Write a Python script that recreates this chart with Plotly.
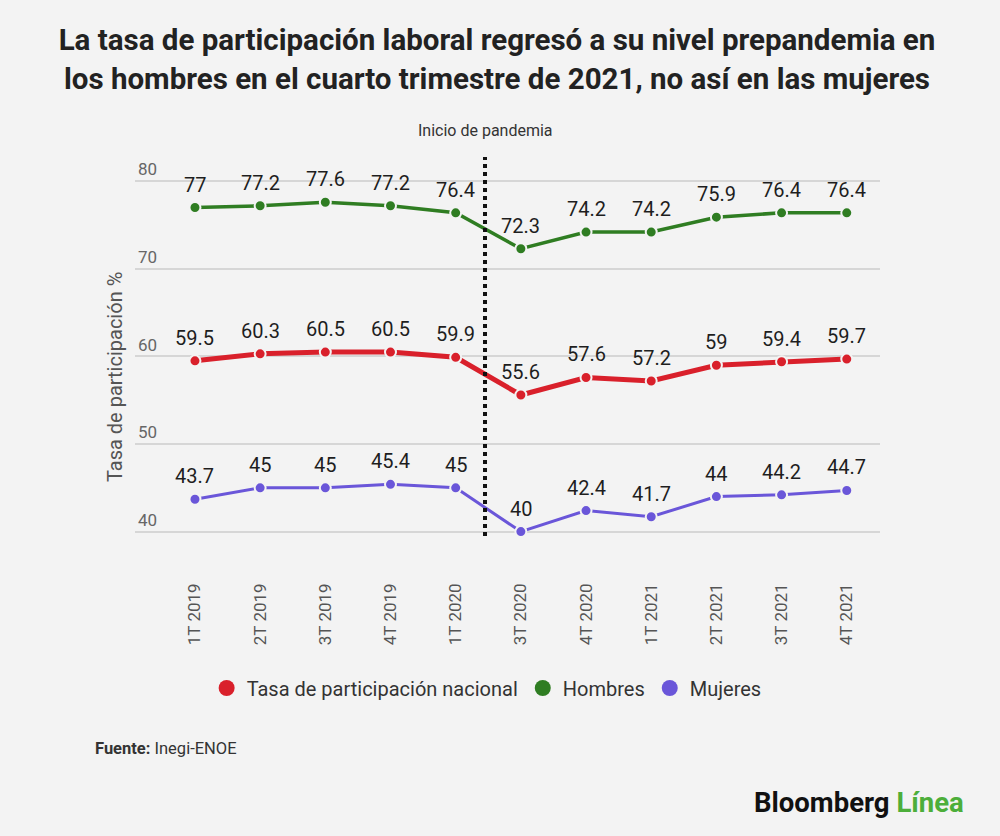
import plotly.graph_objects as go

categories = ["1T 2019", "2T 2019", "3T 2019", "4T 2019", "1T 2020", "3T 2020",
              "4T 2020", "1T 2021", "2T 2021", "3T 2021", "4T 2021"]
nacional = [59.5, 60.3, 60.5, 60.5, 59.9, 55.6, 57.6, 57.2, 59.0, 59.4, 59.7]
hombres = [77.0, 77.2, 77.6, 77.2, 76.4, 72.3, 74.2, 74.2, 75.9, 76.4, 76.4]
mujeres = [43.7, 45.0, 45.0, 45.4, 45.0, 40.0, 42.4, 41.7, 44.0, 44.2, 44.7]
y_ticks = [40, 50, 60, 70, 80]
pandemic_start = 4.45  # between "1T 2020" and "3T 2020"

series = [
    ("Tasa de participación nacional", nacional, "#d9202b", 5),
    ("Hombres", hombres, "#2f7d22", 3.5),
    ("Mujeres", mujeres, "#6a56d9", 3),
]

BG = "#f3f3f3"
FONT = "Roboto"
PH = 381.0      # plot height in px
PB = 536.0      # plot bottom in px


def py(px):
    return (PB - px) / PH


fig = go.Figure()

for name, vals, color, w in series:
    fig.add_trace(go.Scatter(
        x=categories, y=vals, mode="lines+markers", name=name,
        line=dict(color=color, width=w),
        marker=dict(size=11, color=color, line=dict(color=BG, width=2)),
        showlegend=False, cliponaxis=False, hoverinfo="skip"))

for name, vals, color, w in series:
    fig.add_trace(go.Scatter(
        x=[None], y=[None], mode="markers", name=name,
        marker=dict(size=17, color=color), showlegend=True))

annotations = []
for name, vals, color, w in series:
    for c, v in zip(categories, vals):
        annotations.append(dict(
            x=c, y=v, xref="x", yref="y", text=f"{v:g}", showarrow=False,
            yshift=23, font=dict(family=FONT, size=20, color="#1e1e1e")))

annotations += [
    dict(x=pandemic_start, y=py(130), xref="x", yref="paper", text="Inicio de pandemia",
         showarrow=False, font=dict(family=FONT, size=16, color="#333"),
         yanchor="middle"),
    dict(xref="paper", yref="paper", x=-0.0268, y=py(377), textangle=-90,
         text="Tasa de participación %", showarrow=False,
         xanchor="center", yanchor="middle",
         font=dict(family=FONT, size=20, color="#555")),
    dict(xref="paper", yref="paper", x=(93 - 135) / 745, y=py(748),
         xanchor="left", yanchor="middle", showarrow=False,
         text="<b>Fuente:</b> Inegi-ENOE",
         font=dict(family=FONT, size=16.5, color="#333")),
    dict(xref="paper", yref="paper", x=(966 - 135) / 745, y=py(802),
         xanchor="right", yanchor="middle", showarrow=False,
         text="<b>Bloomberg</b> <b><span style='color:#4cae3a'>Línea</span></b>",
         font=dict(family=FONT, size=27.5, color="#111")),
]

fig.add_shape(type="line", x0=pandemic_start, x1=pandemic_start, xref="x", yref="paper",
              y0=0.0, y1=py(157), line=dict(color="#111", width=4, dash="dot"))

fig.update_layout(
    width=1000, height=836,
    paper_bgcolor=BG, plot_bgcolor=BG,
    margin=dict(l=135, r=120, t=PB - PH, b=836 - PB),
    title=dict(
        text="La tasa de participación laboral regresó a su nivel prepandemia en<br>"
             "los hombres en el cuarto trimestre de 2021, no así en las mujeres",
        x=0.497, xanchor="center", y=0.94, yanchor="top",
        font=dict(family=FONT, size=29.5, color="#222", weight="bold")),
    xaxis=dict(
        type="category", range=[-0.92, 10.51], showgrid=False, zeroline=False,
        showline=False, tickangle=-90, ticklabelstandoff=43,
        tickfont=dict(family=FONT, size=17, color="#555")),
    yaxis=dict(
        range=[39.5, 83], tickvals=y_ticks, showgrid=True, gridcolor="#d6d6d6",
        gridwidth=1.5, zeroline=False, showline=False,
        ticklabelposition="inside top",
        tickfont=dict(family=FONT, size=17, color="#666")),
    legend=dict(orientation="h", x=0.472, xanchor="center", y=py(688),
                yanchor="middle", font=dict(family=FONT, size=20, color="#333"),
                itemwidth=30, bgcolor="rgba(0,0,0,0)"),
    annotations=annotations,
)

fig.write_html("out.html", config={"displayModeBar": False},
               post_script="document.body.style.margin='0';"
                           "document.body.style.background='#f3f3f3';")
